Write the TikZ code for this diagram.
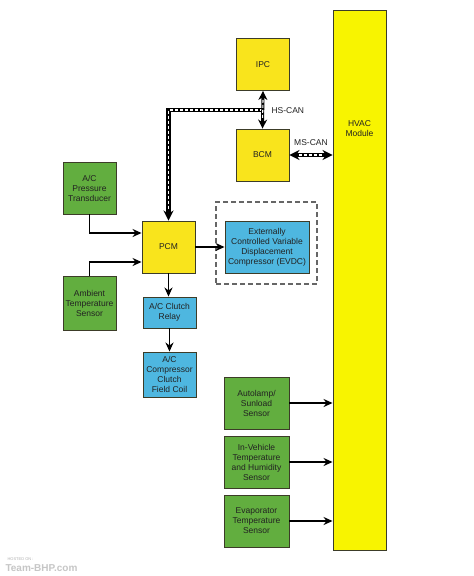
\documentclass[tikz,border=0pt]{standalone}
\usepackage{fontspec}
\setmainfont{Liberation Sans}
\usetikzlibrary{arrows.meta,calc}
\definecolor{ylw}{HTML}{F9E41C}
\definecolor{hvacy}{HTML}{F8F400}
\definecolor{grn}{HTML}{62AE3F}
\definecolor{blu}{HTML}{4EB7E0}
\definecolor{brd}{HTML}{3C3C28}
\definecolor{txt}{HTML}{222222}
\tikzset{
  box/.style={draw=brd,line width=0.9pt,inner sep=1pt,align=center,text=txt,
    font=\fontsize{8.5}{10}\selectfont},
  ybox/.style={box,fill=ylw,minimum width=53pt,minimum height=52pt},
  gbox/.style={box,fill=grn,minimum width=53pt,minimum height=52pt},
  sbox/.style={box,fill=grn,minimum width=65pt,minimum height=52pt},
  bbox/.style={box,fill=blu,minimum width=53pt},
  arr/.style={line width=1.7pt,-{Stealth[length=9pt,width=8pt]}},
  busout/.style={line width=4.5pt,black},
  busin/.style={line width=1.6pt,white,dash pattern=on 3pt off 2pt},
  lbl/.style={font=\fontsize{8.5}{10}\selectfont,text=txt}
}
\begin{document}
\begin{tikzpicture}[x=1pt,y=-1pt]
\useasboundingbox[fill=white] (0,0) rectangle (474,576);
% HVAC module
\node[box,fill=hvacy,minimum width=53pt,minimum height=540pt] (hvac) at (359.5,280) {};
\node[lbl,align=center] (hvaclbl) at (359.5,129) {HVAC\\Module};
% CAN nodes
\node[ybox] (ipc) at (263,64.5) {IPC};
\node[ybox] (bcm) at (262.5,155) {BCM};
\node[ybox] (pcm) at (168.5,247) {PCM};
% sensors left
\node[gbox] (apt) at (89.5,188) {A/C\\Pressure\\Transducer};
\node[gbox,minimum height=54pt] (ats) at (89.5,303) {Ambient\\Temperature\\Sensor};
% blue boxes
\node[bbox,minimum height=31pt] (relay) at (169.5,312.5) {A/C Clutch\\Relay};
\node[bbox,minimum height=45pt] (coil) at (169.5,374.5) {A/C\\Compressor\\Clutch\\Field Coil};
\node[draw=gray!80!black,line width=1.1pt,dash pattern=on 5pt off 3pt,
  minimum width=101pt,minimum height=82pt] (dbox) at (266.5,243) {};
\node[bbox,minimum width=84pt,minimum height=52pt] (evdc) at (267,247)
  {Externally\\Controlled Variable\\Displacement\\Compressor (EVDC)};
% sensors right
\node[sbox] (auto) at (256.5,403) {Autolamp/\\Sunload\\Sensor};
\node[sbox] (inv) at (256.5,462) {In-Vehicle\\Temperature\\and Humidity\\Sensor};
\node[sbox] (evap) at (256.5,521) {Evaporator\\Temperature\\Sensor};
% HS-CAN bus
\coordinate (hsj) at ($(ipc.south)!0.5!(bcm.north)$);
\draw[busout] (hsj) -| ([yshift=9pt]pcm.north);
\draw[busout,-{Stealth[length=10pt,width=10pt]}] (hsj) -| (pcm.north);
\draw[busin] (hsj) -| ([yshift=11pt]pcm.north);
\draw[line width=3pt,{Stealth[length=9pt,width=9pt]}-{Stealth[length=9pt,width=9pt]}] (ipc.south) -- (bcm.north);
\draw[white,line width=1.1pt,dash pattern=on 3pt off 2pt] ([yshift=-9pt]ipc.south) -- ([yshift=9pt]bcm.north);
\node[lbl,anchor=west] (hscan) at (268,111) {HS-CAN};
% MS-CAN
\coordinate (msend) at (bcm.east -| hvac.west);
\draw[line width=3.8pt,{Stealth[length=10pt,width=10pt]}-{Stealth[length=10pt,width=10pt]}] (bcm.east) -- (msend);
\draw[white,line width=1.4pt,dash pattern=on 3pt off 2pt] ([xshift=10pt]bcm.east) -- ([xshift=-10pt]msend);
\node[lbl] (mscan) at (311,143) {MS-CAN};
% signal arrows
\draw[arr] (apt.south) |- ([yshift=14pt]pcm.west);
\draw[arr] (ats.north) |- ([yshift=-15pt]pcm.west);
\draw[arr] (pcm.east) -- (evdc.west);
\draw[arr] (pcm.south) -- (pcm.south |- relay.north);
\draw[arr] (relay.south) -- (coil.north);
\draw[arr] (auto.east) -- (auto.east -| hvac.west);
\draw[arr] (inv.east) -- (inv.east -| hvac.west);
\draw[arr] (evap.east) -- (evap.east -| hvac.west);
% watermark
\node[anchor=west,font=\fontsize{4}{5}\selectfont,text=gray!60] (wm1) at (4,559) {HOSTED ON :};
\node[anchor=west,font=\bfseries\fontsize{10}{11}\selectfont,text=gray!45] (wm2) at (2,568) {Team-BHP.com};
\end{tikzpicture}
\end{document}
